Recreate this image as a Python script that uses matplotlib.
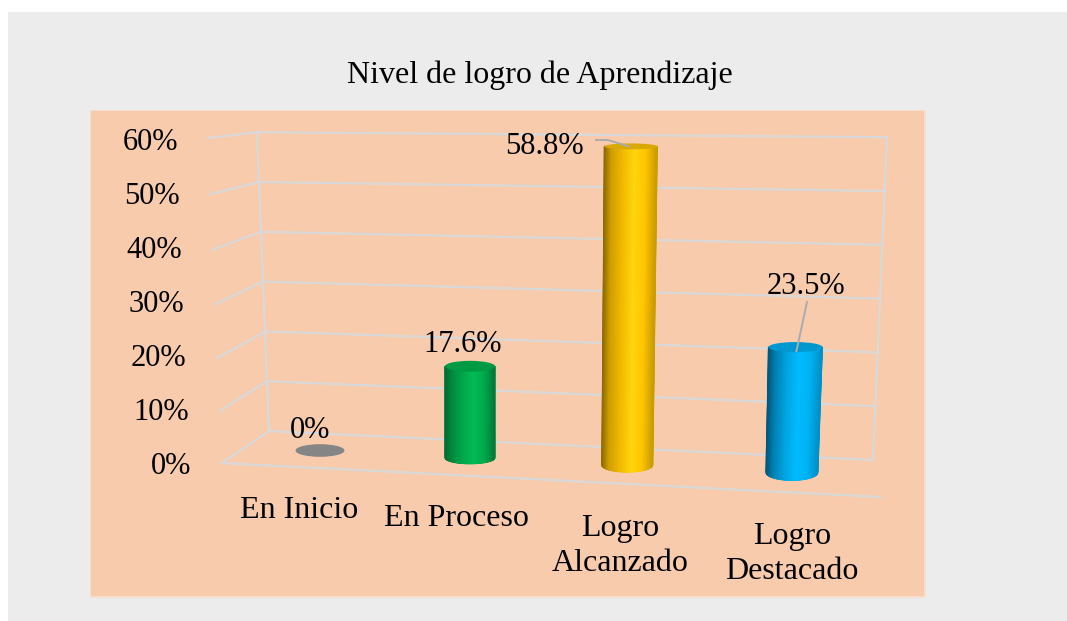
import numpy as np
import matplotlib
matplotlib.use("Agg")
import matplotlib.pyplot as plt
from matplotlib.colors import LinearSegmentedColormap
from matplotlib.patches import Ellipse, Rectangle

# ---------- data ----------
title = "Nivel de logro de Aprendizaje"
categories = ["En Inicio", "En Proceso", "Logro\nAlcanzado", "Logro\nDestacado"]
values = [0, 17.6, 58.8, 23.5]
value_labels = ["0%", "17.6%", "58.8%", "23.5%"]
ticks = [0, 10, 20, 30, 40, 50, 60]
tick_labels = ["0%", "10%", "20%", "30%", "40%", "50%", "60%"]

# ---------- style ----------
plt.rcParams["font.family"] = ["Liberation Serif", "DejaVu Serif"]
W, H = 1067, 621
fig = plt.figure(figsize=(W / 100, H / 100), dpi=100, facecolor="white")
ax = fig.add_axes([0, 0, 1, 1])
ax.set_xlim(0, W)
ax.set_ylim(H, 0)
ax.axis("off")

ax.add_patch(Rectangle((8, 12), W - 8, H - 12, fc="#ECECEC", ec="none", zorder=0))
ax.add_patch(Rectangle((90, 110), 836, 488, fc="#F6DFCF", ec="none", zorder=0.5))
ax.add_patch(Rectangle((91, 111), 833, 485, fc="#F8CBAD", ec="none", zorder=1))

GRID = "#D9D9D9"
LW = 1.6


# perspective projection helpers (value -> figure position)
def back_left(v):
    return 269 - 0.2 * v, 431 - 4.98 * v


def front_left(v):
    return 222 - 0.233 * v, 463 - 5.167 * v - 0.00417 * v * v


def back_right(v):
    return 873 + 0.233 * v, 460 - 5.38 * v


bar_scale = [5.2, 5.2, 5.42, 5.33]
bar_lean = [0, 0, 0.06, 0.15]
top_grow = [0, 0, 1, 1]


def bar_center(i, v):
    x0 = 320 + 146.3 * i + 3.67 * i * i
    y0 = 450.5 + 7.3 * i
    return x0 + bar_lean[i] * v, y0 - bar_scale[i] * v


for t in ticks:
    fx, fy = front_left(t)
    bx, by = back_left(t)
    rx, ry = back_right(t)
    ax.plot([fx, bx, rx], [fy, by, ry], color=GRID, lw=LW, zorder=2,
            solid_joinstyle="miter")
# wall verticals
for f in (back_left, back_right):
    p0, p1 = f(ticks[0]), f(ticks[-1])
    ax.plot([p0[0], p1[0]], [p0[1], p1[1]], color=GRID, lw=LW, zorder=2)
# floor front edge
ax.plot([222, 880], [463, 497], color=GRID, lw=LW, zorder=2)

# tick labels
for t, lab in zip(ticks, tick_labels):
    ax.text(191 - 0.217 * t, 467 - 5.4 * t, lab, ha="right", va="center",
            fontsize=22, color="black", zorder=6)

# bars
styles = [
    None,
    dict(stops=["#006A31", "#008A3E", "#00A84B", "#00BC55", "#00A94B", "#007A39"], top="#009A45"),
    dict(stops=["#8A6A00", "#CF9F00", "#F2BA00", "#FFD60E", "#FFC400", "#C99C00"], top="#D9A900"),
    dict(stops=["#00567B", "#0080B2", "#00A6E2", "#00BCFF", "#00B2F2", "#0090C8"], top="#0098D0"),
]
stop_pos = [0, 0.14, 0.36, 0.58, 0.8, 1]
rx_base = [24.5, 25, 25.5, 26]
ry_bottom = [6.3, 6, 7, 8]

for i, v in enumerate(values):
    rx = rx_base[i]
    bx, by = bar_center(i, 0)
    tx, ty = bar_center(i, v)
    if styles[i] is None:
        ax.add_patch(Ellipse((bx, by), 2 * rx, 2 * ry_bottom[i], fc="#858585", ec="none", zorder=4))
        continue
    s = styles[i]
    cmap = LinearSegmentedColormap.from_list(f"c{i}", list(zip(stop_pos, s["stops"])))
    u = np.linspace(-1, 1, 121)
    arc = np.sqrt(1 - u ** 2)
    ry_top = 6.5 - 0.06 * v
    rt = rx + top_grow[i]
    X = np.vstack([bx + rx * u, tx + rt * u])
    Y = np.vstack([by + ry_bottom[i] * arc, ty + 0 * u])
    C = np.vstack([(u + 1) / 2, (u + 1) / 2])
    ax.pcolormesh(X, Y, C, shading="gouraud", cmap=cmap, vmin=0, vmax=1, zorder=4)
    ax.add_patch(Ellipse((tx, ty), 2 * rt, 2 * ry_top, fc=s["top"], ec="none", zorder=4.5))

# leader lines
ldr = "#ABABAB"
top2 = bar_center(2, values[2])
top3 = bar_center(3, values[3])
ax.plot([596, 608, top2[0] - 2], [140, 140, top2[1]], color=ldr, lw=1.4, zorder=5)
ax.plot([807, top3[0] + 1], [302, top3[1] + 4], color=ldr, lw=1.4, zorder=5)

# value labels
lab_xy = [(310, 430), (463, 344), (544, 146), (806, 286)]
for lab, (x, y) in zip(value_labels, lab_xy):
    ax.text(x, y, lab, ha="center", va="center", fontsize=22, color="black", zorder=6)

# category labels
cat_xy = [(299, 511), (456, 519), (620, 546), (792, 554)]
for lab, (x, y) in zip(categories, cat_xy):
    ax.text(x, y, lab, ha="center", va="center", fontsize=23, color="black",
            linespacing=1.3, zorder=6)

ax.text(540, 75, title, ha="center", va="center", fontsize=23, color="black", zorder=6)

fig.savefig("out.png", dpi=100, facecolor=fig.get_facecolor())
